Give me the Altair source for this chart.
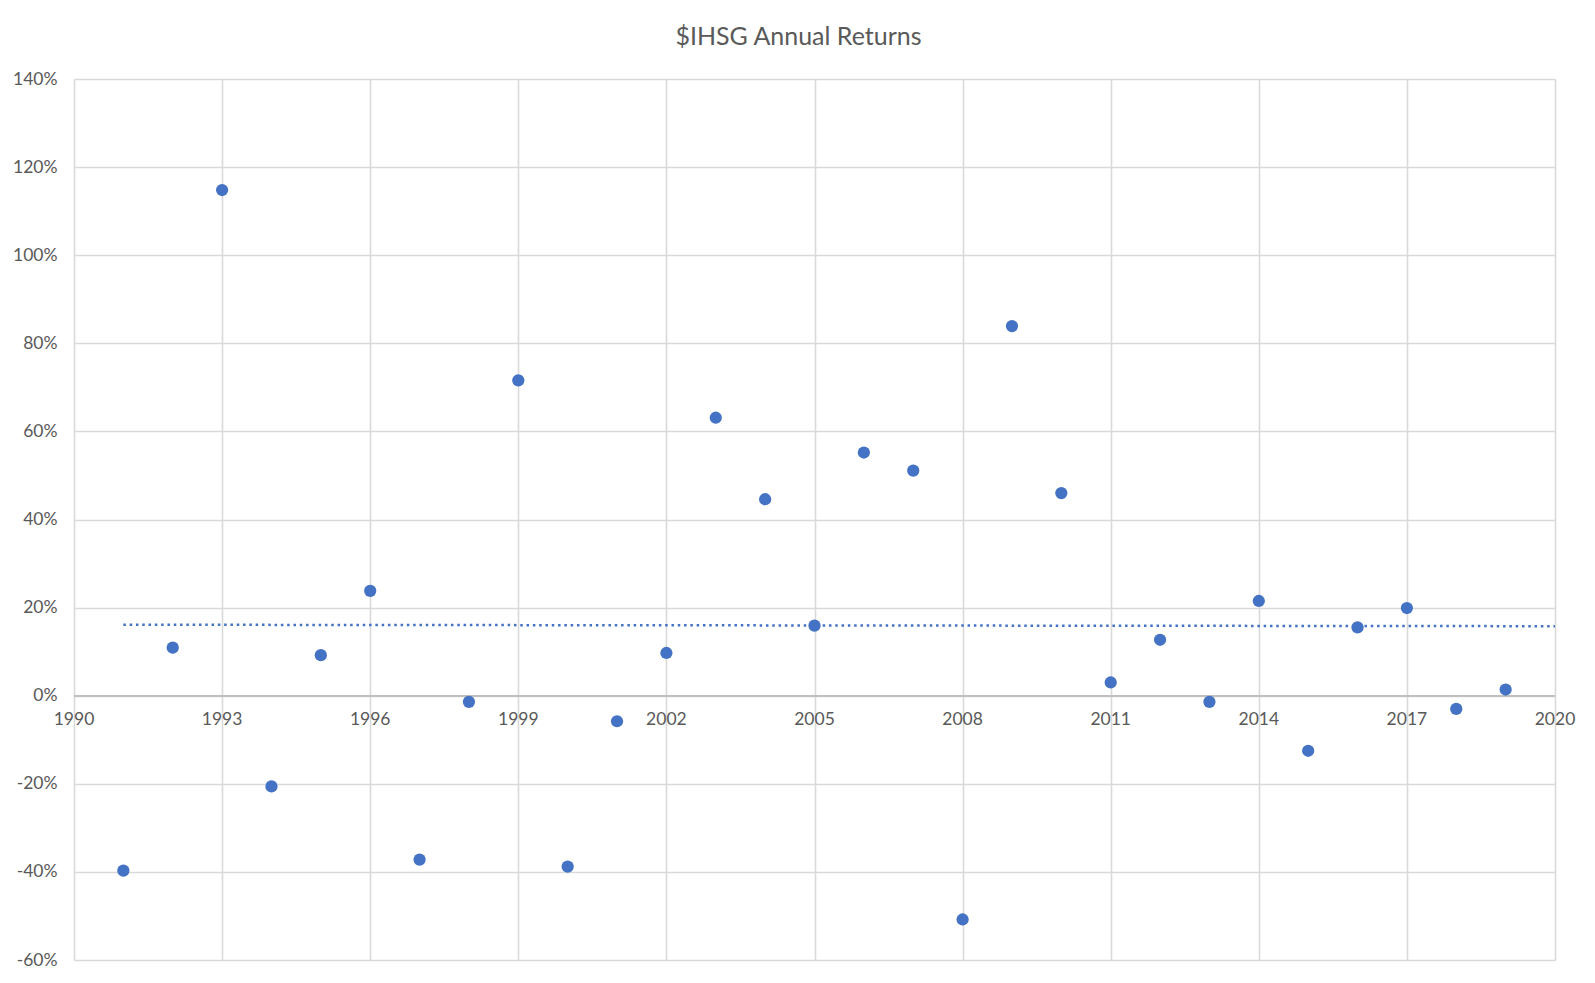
import altair as alt
import pandas as pd

years = list(range(1991, 2020))
returns = [-39.7, 10.9, 114.8, -20.6, 9.2, 23.8, -37.2, -1.4, 71.6, -38.8,
           -5.8, 9.7, 63.1, 44.6, 15.9, 55.2, 51.1, -50.8, 83.9, 46.0,
           3.0, 12.7, -1.4, 21.5, -12.5, 15.5, 19.9, -3.0, 1.4]
x_ticks = list(range(1990, 2021, 3))
y_ticks = list(range(-60, 141, 20))
title_text = "$IHSG Annual Returns"

df = pd.DataFrame({"year": years, "value": returns})
ticks_df = pd.DataFrame({"year": x_ticks})

BLUE = "#4472C4"
GRAY_TXT = "#595959"
FONT = "Lato"

xscale = alt.Scale(domain=[1990, 2020], nice=False, zero=False)
yscale = alt.Scale(domain=[-60, 140], nice=False)

base = alt.Chart(df)

points = base.mark_circle(color=BLUE, opacity=1, size=150).encode(
    x=alt.X("year:Q", scale=xscale,
            axis=alt.Axis(values=x_ticks, labels=False, ticks=False, domain=False,
                          grid=True, title=None)),
    y=alt.Y("value:Q", scale=yscale,
            axis=alt.Axis(values=y_ticks, ticks=False, domain=False, grid=True,
                          title=None, labelExpr="toString(datum.value) + '%'",
                          labelPadding=17)),
)

zero_rule = alt.Chart(df).mark_rule(color="#bfbfbf", strokeWidth=1.6).encode(
    y=alt.datum(0)
)

trend = base.transform_regression(
    "year", "value", extent=[1991, 2020]
).mark_line(color=BLUE, strokeWidth=2.5, strokeDash=[2.5, 3.8]).encode(
    x="year:Q", y="value:Q"
)

xlabels = alt.Chart(ticks_df).mark_text(
    font=FONT, fontSize=17.5, color=GRAY_TXT, baseline="middle", dy=24
).encode(
    x="year:Q", y=alt.datum(0), text=alt.Text("year:Q", format="d")
)

chart = alt.layer(zero_rule, trend, points, xlabels).properties(
    width=1481,
    height=881,
    autosize=alt.AutoSizeParams(type="none"),
    padding={"left": 66, "top": 71, "right": 30, "bottom": 15},
    title=alt.TitleParams(title_text, font=FONT, fontSize=25, fontWeight="normal",
                          color=GRAY_TXT, anchor="middle", dx=-16, offset=20),
).configure_view(stroke=None).configure_axis(
    gridColor="#d9d9d9", gridWidth=1.6, labelFont=FONT, labelFontSize=17.5,
    labelColor=GRAY_TXT
)

chart.save("out.html", embed_options={"renderer": "svg", "actions": False})
